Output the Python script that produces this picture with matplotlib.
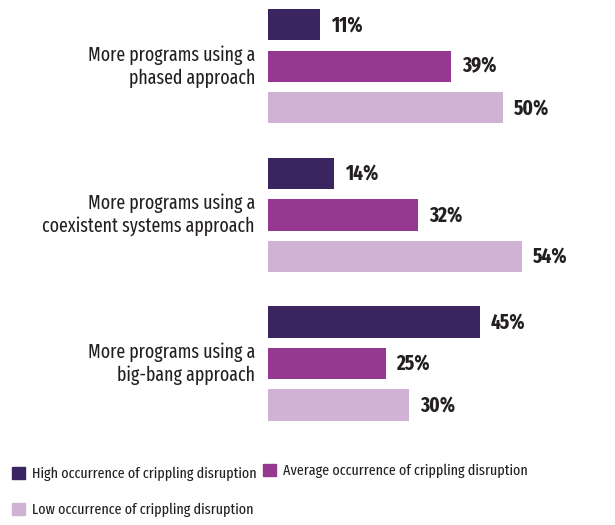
import numpy as np
import matplotlib.pyplot as plt
from matplotlib.patches import Patch

plt.rcParams['font.family'] = ['Fira Sans Extra Condensed', 'DejaVu Sans']
plt.rcParams['font.stretch'] = 'condensed'

categories = ['More programs using a\nphased approach',
              'More programs using a\ncoexistent systems approach',
              'More programs using a\nbig-bang approach']
series = ['High occurrence of crippling disruption',
          'Average occurrence of crippling disruption',
          'Low occurrence of crippling disruption']
high = [11, 14, 45]
average = [39, 32, 25]
low = [50, 54, 30]

colors = ['#3b2560', '#95388f', '#d0b3d4']
text_color = '#231f20'

fig = plt.figure(figsize=(6.15, 5.25), dpi=100)
# axes start where the bars start; 4.7 px per percent
ax = fig.add_axes([268 / 615, 85 / 525, 347 / 615, 440 / 525])
ax.set_xlim(0, 347 / 4.7)

group_gap = 3.58
bar_h = 0.75
centers = np.arange(len(categories)) * group_gap
ax.set_ylim(-1.6 + 440 / 41.5, -1.6)

for k, vals in enumerate([high, average, low]):
    ys = centers + (k - 1)
    ax.barh(ys, vals, height=bar_h, color=colors[k], label=series[k])
    for y, v in zip(ys, vals):
        ax.annotate(f'{v}%', (v, y), xytext=(11, 0), textcoords='offset pixels',
                    ha='left', va='center', fontsize=15, fontweight='bold',
                    color=text_color)

for c, name in zip(centers, categories):
    ax.annotate(name, (0, c), xytext=(-13, 0), textcoords='offset pixels',
                ha='right', va='center', fontsize=14, color=text_color,
                multialignment='right', linespacing=1.2, annotation_clip=False)

ax.axis('off')

# legend laid out in two rows: High / Average on top, Low below
handles = [Patch(color=c) for c in colors]
leg_kw = dict(loc='center left', frameon=False, fontsize=11, handlelength=0.85,
              handleheight=0.85, handletextpad=0.45, labelspacing=1.45,
              labelcolor=text_color, borderaxespad=0, borderpad=0)
fig.legend([handles[0], handles[2]], [series[0], series[2]],
           bbox_to_anchor=(12 / 615, 1 - 492 / 525), **leg_kw)
fig.legend([handles[1]], [series[1]],
           bbox_to_anchor=(263 / 615, 1 - 471 / 525), **leg_kw)

fig.savefig('out.png', dpi=100)
